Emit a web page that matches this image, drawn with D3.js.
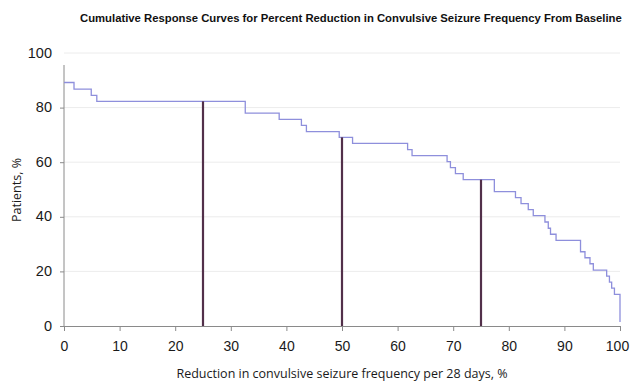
<!DOCTYPE html>
<html>
<head>
<meta charset="utf-8">
<script src="https://cdn.jsdelivr.net/npm/d3@7"></script>
<style>
  body { margin: 0; background: #fff; }
  svg { display: block; font-family: 'Open Sans', 'Liberation Sans', sans-serif; }
  .tick text { fill: #1a1a1a; }
</style>
</head>
<body>
<div id="chart"></div>
<script>
// step points: reduction (%) where each new level starts, and the patient share (%) from there
const reductionPct = [0, 1.8, 4.9, 5.9, 32.6, 38.7, 42.7, 43.6, 49.5, 51.9, 61.8, 62.6, 68.9, 69.5, 70.4, 71.8,
  77.4, 81.2, 82.2, 83.5, 84.4, 86.5, 87.1, 87.5, 88.5, 92.9, 93.7, 94.6, 95.2, 97.6, 98.1, 98.5, 99.0, 100];
const patientsPct = [89.2, 86.8, 84.5, 82.3, 78.0, 75.7, 73.5, 71.2, 69.1, 66.9, 64.6, 62.4, 60.2, 58.0, 55.8, 53.6,
  49.2, 47.0, 44.8, 42.6, 40.4, 38.1, 35.8, 33.6, 31.4, 27.2, 25.0, 22.8, 20.5, 18.3, 16.1, 13.9, 11.6, 1.5];
const markerX = [25, 50, 75];
const xTicks = [0, 10, 20, 30, 40, 50, 60, 70, 80, 90, 100];
const yTicks = [0, 20, 40, 60, 80, 100];

const width = 631, height = 383;
const x = d3.scaleLinear().domain([0, 100]).range([64, 620]);
const y = d3.scaleLinear().domain([0, 100]).range([326, 53]);

const svg = d3.select('#chart').append('svg')
  .attr('width', width)
  .attr('height', height);

// gridlines
svg.append('g')
  .selectAll('line')
  .data(yTicks.filter(d => d > 0))
  .join('line')
  .attr('x1', x(0)).attr('x2', x(100))
  .attr('y1', d => y(d)).attr('y2', d => y(d))
  .attr('stroke', '#ececec')
  .attr('stroke-width', 1);

// y axis (line starts a bit below the top gridline like the original)
const yAxis = svg.append('g')
  .attr('transform', `translate(${x(0)},0)`)
  .call(d3.axisLeft(y).tickValues(yTicks).tickSize(4).tickPadding(8).tickSizeOuter(0));
yAxis.select('.domain').remove();
yAxis.append('line')
  .attr('x1', 0).attr('x2', 0)
  .attr('y1', y(95.6)).attr('y2', y(0))
  .attr('stroke', '#8a8a8a');
yAxis.selectAll('.tick line').attr('stroke', '#8a8a8a')
  .attr('opacity', d => d === 100 ? 0 : 1);
yAxis.selectAll('.tick text').attr('font-size', 14.5).attr('dy', '0.28em');

// x axis
const xAxis = svg.append('g')
  .attr('transform', `translate(0,${y(0)})`)
  .call(d3.axisBottom(x).tickValues(xTicks).tickSize(5).tickPadding(10).tickSizeOuter(0));
xAxis.select('.domain').attr('stroke', '#8a8a8a');
xAxis.selectAll('.tick line').attr('stroke', '#8a8a8a');
xAxis.selectAll('.tick text')
  .attr('font-size', 14)
  .attr('dx', d => d === 100 ? -3 : 0);

// response curve
const steps = reductionPct.map((r, i) => [r, patientsPct[i]]);
svg.append('path')
  .datum(steps)
  .attr('fill', 'none')
  .attr('stroke', '#8e8fdc')
  .attr('stroke-width', 1.3)
  .attr('d', d3.line().x(d => x(d[0])).y(d => y(d[1])).curve(d3.curveStepAfter));

// level at a given reduction
const levelAt = v => {
  let lvl = patientsPct[0];
  reductionPct.forEach((r, i) => { if (r <= v) lvl = patientsPct[i]; });
  return lvl;
};

// marker lines at 25 / 50 / 75 %
svg.append('g')
  .selectAll('line')
  .data(markerX)
  .join('line')
  .attr('x1', d => x(d)).attr('x2', d => x(d))
  .attr('y1', y(0)).attr('y2', d => y(levelAt(d)))
  .attr('stroke', '#52304a')
  .attr('stroke-width', 2.2);

// titles
svg.append('text')
  .text('Cumulative Response Curves for Percent Reduction in Convulsive Seizure Frequency From Baseline')
  .attr('x', 80).attr('y', 22)
  .attr('font-size', 11.3)
  .attr('font-weight', 'bold')
  .attr('font-family', "'Liberation Sans', sans-serif")
  .attr('fill', '#111');

svg.append('text')
  .text('Reduction in convulsive seizure frequency per 28 days, %')
  .attr('x', 342).attr('y', 378)
  .attr('text-anchor', 'middle')
  .attr('font-size', 12.5)
  .attr('fill', '#1a1a1a');

svg.append('text')
  .text('Patients, %')
  .attr('transform', 'translate(21,190) rotate(-90)')
  .attr('text-anchor', 'middle')
  .attr('font-size', 12.5)
  .attr('fill', '#1a1a1a');
</script>
</body>
</html>
